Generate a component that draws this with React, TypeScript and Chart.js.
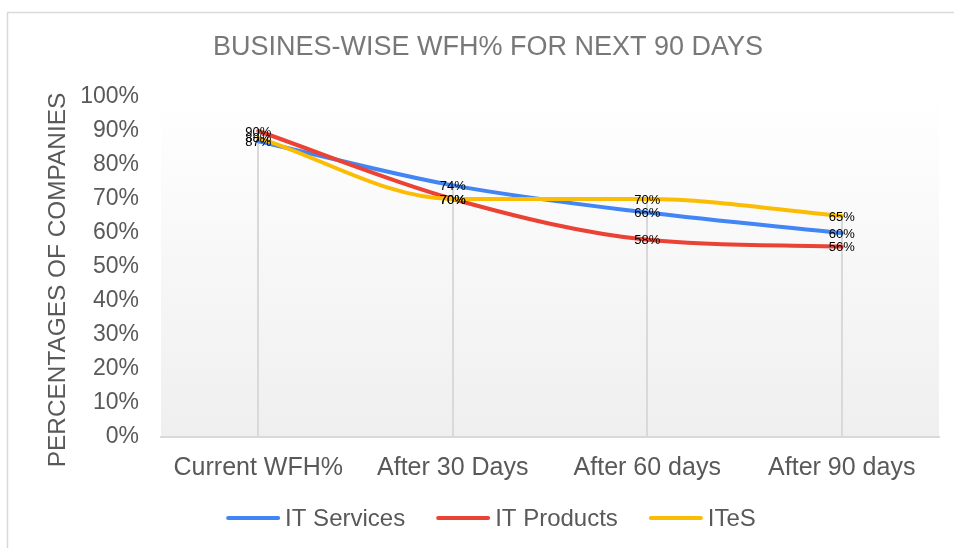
import React, { useEffect, useRef } from "react";
import { Chart, registerables } from "chart.js";

Chart.register(...registerables);

const categories = ["Current WFH%", "After 30 Days", "After 60 days", "After 90 days"];
const itServices = [87, 74, 66, 60];
const itProducts = [90, 70, 58, 56];
const ites = [88, 70, 70, 65];
const seriesNames = ["IT Services", "IT Products", "ITeS"];
const seriesColors = ["#4285F4", "#EA4335", "#FBBC04"];
const chartTitle = "BUSINES-WISE WFH% FOR NEXT 90 DAYS";
const yAxisTitle = "PERCENTAGES OF COMPANIES";
const yMin = 0;
const yMax = 100;
const yStep = 10;

const FONT = '"Liberation Sans", Arial, sans-serif';
const TEXT = "#595959";

const decorPlugin = {
  id: "decor",
  beforeDraw(chart: any) {
    const { ctx, chartArea: a, width, height } = chart;
    ctx.save();
    ctx.fillStyle = "#ffffff";
    ctx.fillRect(0, 0, width, height);
    // outer border
    ctx.strokeStyle = "#d9d9d9";
    ctx.lineWidth = 1.5;
    ctx.beginPath();
    ctx.moveTo(7.5, height);
    ctx.lineTo(7.5, 12.5);
    ctx.lineTo(width, 12.5);
    ctx.stroke();
    // plot area gradient
    const g = ctx.createLinearGradient(0, a.top, 0, a.bottom);
    g.addColorStop(0, "#ffffff");
    g.addColorStop(1, "#efefef");
    ctx.fillStyle = g;
    ctx.fillRect(a.left, a.top, a.right - a.left, a.bottom - a.top);
    // title
    ctx.fillStyle = "#787878";
    ctx.font = `27px ${FONT}`;
    ctx.textAlign = "center";
    ctx.textBaseline = "middle";
    ctx.fillText(chartTitle, 488, 48);
    // y axis title
    ctx.save();
    ctx.translate(58, 280);
    ctx.rotate(-Math.PI / 2);
    ctx.fillStyle = TEXT;
    ctx.font = `24.4px ${FONT}`;
    ctx.fillText(yAxisTitle, 0, 0);
    ctx.restore();
    // legend
    ctx.font = `24px ${FONT}`;
    const lineLen = 54;
    const gapTxt = 5;
    const gapItem = 31;
    const widths = seriesNames.map((n) => ctx.measureText(n).width);
    const total =
      widths.reduce((s, w) => s + lineLen + gapTxt + w, 0) + gapItem * (seriesNames.length - 1);
    let x = 491 - total / 2;
    const ly = 518;
    ctx.textAlign = "left";
    ctx.lineCap = "round";
    seriesNames.forEach((n, i) => {
      ctx.strokeStyle = seriesColors[i];
      ctx.lineWidth = 4;
      ctx.beginPath();
      ctx.moveTo(x + 2, ly);
      ctx.lineTo(x + lineLen - 2, ly);
      ctx.stroke();
      ctx.fillStyle = TEXT;
      ctx.fillText(n, x + lineLen + gapTxt, ly + 1);
      x += lineLen + gapTxt + widths[i] + gapItem;
    });
    ctx.restore();
  },
  beforeDatasetsDraw(chart: any) {
    const { ctx, chartArea: a } = chart;
    const xs = chart.scales.x;
    const ys = chart.scales.y;
    ctx.save();
    ctx.strokeStyle = "#d9d9d9";
    ctx.lineWidth = 2;
    categories.forEach((_, i) => {
      const vals = chart.data.datasets.map((d: any) => d.data[i]);
      const top = ys.getPixelForValue(Math.max(...vals));
      const x = Math.round(xs.getPixelForValue(i));
      ctx.beginPath();
      ctx.moveTo(x, top);
      ctx.lineTo(x, a.bottom);
      ctx.stroke();
    });
    ctx.restore();
  },
  afterDatasetsDraw(chart: any) {
    const { ctx } = chart;
    ctx.save();
    ctx.font = `13px ${FONT}`;
    ctx.fillStyle = "#000000";
    ctx.textAlign = "center";
    ctx.textBaseline = "middle";
    chart.data.datasets.forEach((d: any, di: number) => {
      const meta = chart.getDatasetMeta(di);
      meta.data.forEach((pt: any, i: number) => {
        ctx.fillText(`${d.data[i]}%`, pt.x, pt.y + 1);
      });
    });
    ctx.restore();
  },
};

export default function App() {
  const ref = useRef<HTMLCanvasElement | null>(null);
  useEffect(() => {
    const seriesData = [itServices, itProducts, ites];
    const chart = new Chart(ref.current as HTMLCanvasElement, {
      type: "line",
      data: {
        labels: categories,
        datasets: seriesNames.map((n, i) => ({
          label: n,
          data: seriesData[i],
          borderColor: seriesColors[i],
          backgroundColor: seriesColors[i],
          borderWidth: 4,
          pointRadius: 0,
          pointHoverRadius: 0,
          cubicInterpolationMode: "monotone" as const,
          borderCapStyle: "round" as const,
          borderJoinStyle: "round" as const,
          fill: false,
          order: seriesNames.length - 1 - i,
        })),
      },
      options: {
        responsive: false,
        animation: false,
        devicePixelRatio: 1,
        layout: { padding: { top: 97, right: 15, bottom: 0, left: 0 } },
        plugins: {
          legend: { display: false },
          title: { display: false },
          tooltip: { enabled: false },
        },
        scales: {
          x: {
            type: "category",
            offset: true,
            grid: { display: false, drawTicks: false },
            border: { display: true, color: "#d9d9d9", width: 2 },
            ticks: { color: TEXT, font: { size: 25, family: FONT }, padding: 16, maxRotation: 0 },
            afterFit(s: any) {
              s.height = 111;
            },
          },
          y: {
            min: yMin,
            max: yMax,
            grid: { display: false, drawTicks: false },
            border: { display: false },
            ticks: {
              stepSize: yStep,
              color: TEXT,
              font: { size: 23, family: FONT },
              padding: 22,
              callback: (v: any) => `${v}%`,
            },
            title: { display: false },
            afterFit(s: any) {
              s.width = 161;
            },
          },
        },
      },
      plugins: [decorPlugin],
    });
    return () => chart.destroy();
  }, []);
  return (
    <div style={{ position: "absolute", left: 0, top: 0, width: 954, height: 548 }}>
      <canvas ref={ref} width={954} height={548} style={{ display: "block" }} />
    </div>
  );
}
